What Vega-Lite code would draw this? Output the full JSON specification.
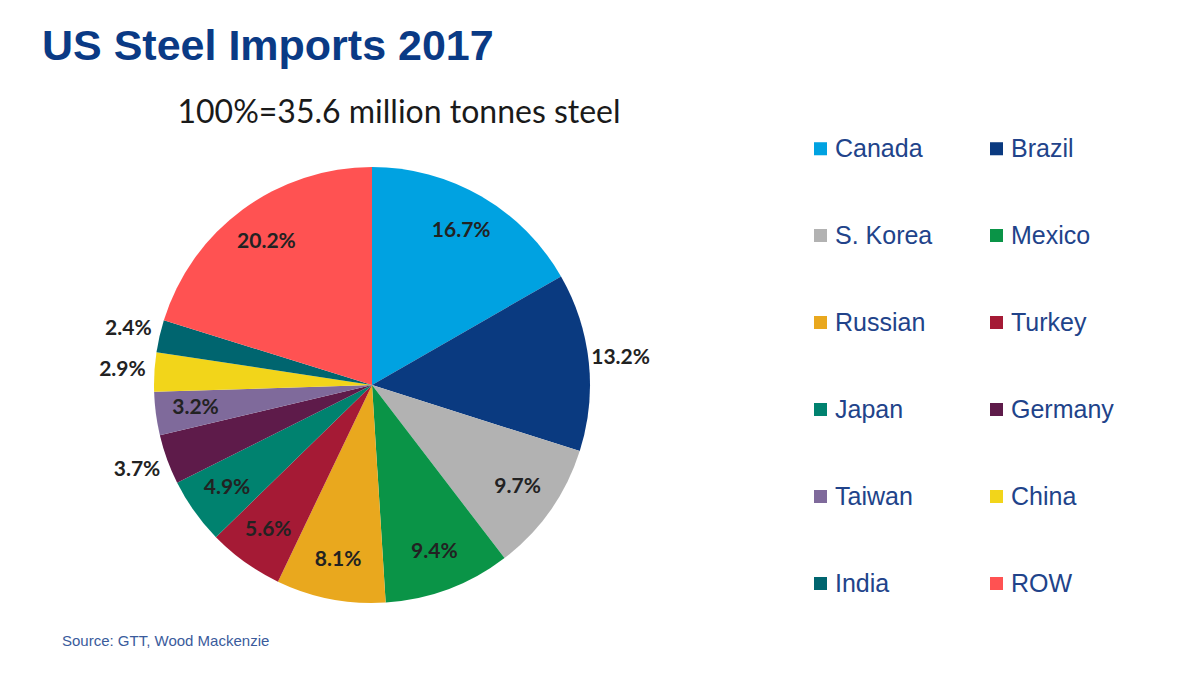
{
  "$schema": "https://vega.github.io/schema/vega-lite/v6.json",
  "background": "white",
  "padding": {"left": 42, "top": 25, "right": 0, "bottom": 0},
  "config": {
    "view": {"stroke": null},
    "concat": {"spacing": 0},
    "legend": {"padding": 0}
  },
  "title": {
    "text": "US Steel Imports 2017",
    "anchor": "start",
    "frame": "bounds",
    "font": "Liberation Sans",
    "fontSize": 43,
    "fontWeight": "bold",
    "color": "#0a3a85",
    "offset": 28
  },
  "vconcat": [
    {
      "title": {
        "text": "Source: GTT, Wood Mackenzie",
        "orient": "bottom",
        "anchor": "start",
        "frame": "bounds",
        "font": "Liberation Sans",
        "fontSize": 15,
        "fontWeight": "normal",
        "color": "#3a5b9c",
        "offset": -6,
        "dx": 20
      },
      "vconcat": [
        {
          "title": {
            "text": "100%=35.6 million tonnes steel",
            "anchor": "middle",
            "font": "Lato",
            "fontSize": 32,
            "fontWeight": "normal",
            "color": "#1a1a1a",
            "offset": 28,
            "dx": 27
          },
          "width": 660,
          "height": 440,
          "data": {
            "values": [
              {"country": "Canada", "share": 16.7, "label": "16.7%", "order": 1},
              {"country": "Brazil", "share": 13.2, "label": "13.2%", "order": 2},
              {"country": "S. Korea", "share": 9.7, "label": "9.7%", "order": 3},
              {"country": "Mexico", "share": 9.4, "label": "9.4%", "order": 4},
              {"country": "Russian", "share": 8.1, "label": "8.1%", "order": 5},
              {"country": "Turkey", "share": 5.6, "label": "5.6%", "order": 6},
              {"country": "Japan", "share": 4.9, "label": "4.9%", "order": 7},
              {"country": "Germany", "share": 3.7, "label": "3.7%", "order": 8},
              {"country": "Taiwan", "share": 3.2, "label": "3.2%", "order": 9},
              {"country": "China", "share": 2.9, "label": "2.9%", "order": 10},
              {"country": "India", "share": 2.4, "label": "2.4%", "order": 11},
              {"country": "ROW", "share": 20.2, "label": "20.2%", "order": 12}
            ]
          },
          "encoding": {
            "theta": {"field": "share", "type": "quantitative", "stack": true},
            "order": {"field": "order", "type": "quantitative"}
          },
          "layer": [
            {
              "mark": {"type": "arc", "outerRadius": 218},
              "encoding": {
                "color": {
                  "field": "country",
                  "type": "nominal",
                  "scale": {
                    "domain": ["Canada", "Brazil", "S. Korea", "Mexico", "Russian", "Turkey", "Japan", "Germany", "Taiwan", "China", "India", "ROW"],
                    "range": ["#00a2e1", "#0a3a80", "#b2b2b2", "#0a9447", "#e9a81e", "#a51a35", "#00826f", "#5e1b4a", "#7f6a9b", "#f2d51a", "#00656f", "#ff5252"]
                  },
                  "legend": {
                    "orient": "none",
                    "legendX": 766,
                    "legendY": -29,
                    "columns": 2,
                    "direction": "horizontal",
                    "title": null,
                    "symbolType": "square",
                    "symbolSize": 170,
                    "symbolStrokeWidth": 0,
                    "labelFont": "Liberation Sans",
                    "labelFontSize": 25,
                    "labelColor": "#21438a",
                    "labelOffset": 2,
                    "rowPadding": 61,
                    "columnPadding": 51
                  }
                }
              }
            },
            {
              "mark": {"type": "text", "radius": 178, "font": "Lato", "fontWeight": "bold", "fontSize": 21, "color": "#222222"},
              "encoding": {
                "text": {
                  "condition": {"test": "indexof(['Brazil','Germany','China','India'], datum.country) >= 0", "value": ""},
                  "field": "label",
                  "type": "nominal"
                }
              }
            },
            {
              "mark": {"type": "text", "radius": 250, "font": "Lato", "fontWeight": "bold", "fontSize": 21, "color": "#222222"},
              "encoding": {
                "text": {
                  "condition": {"test": "indexof(['Brazil','Germany','China','India'], datum.country) < 0", "value": ""},
                  "field": "label",
                  "type": "nominal"
                }
              }
            }
          ]
        }
      ]
    }
  ]
}
